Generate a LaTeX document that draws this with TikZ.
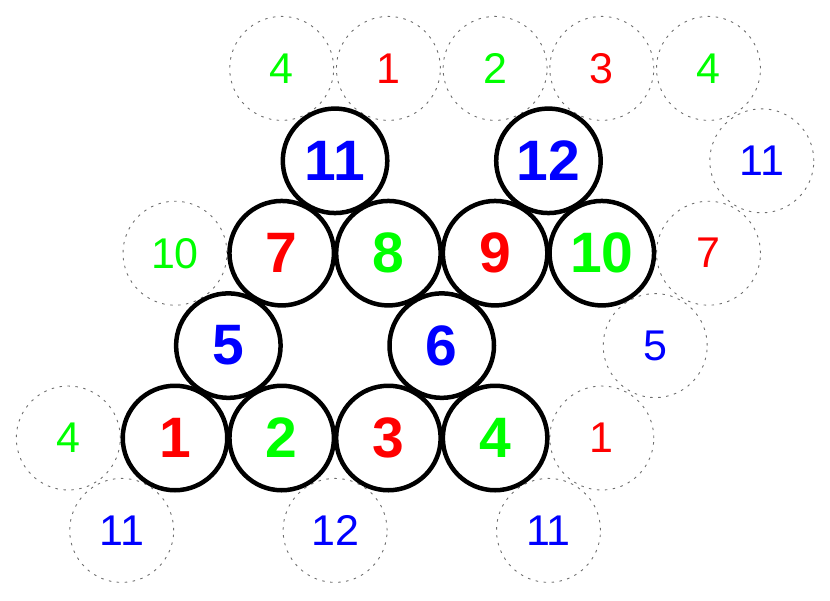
\documentclass[tikz,border=0pt]{standalone}
\usepackage{fontspec}
\setmainfont{Liberation Sans}
\definecolor{cr}{RGB}{255,0,0}
\definecolor{cg}{RGB}{0,255,0}
\definecolor{cb}{RGB}{0,0,255}
\definecolor{dashgray}{RGB}{110,110,110}
\tikzset{
  main/.style={circle,draw=black,line width=4.5pt,minimum size=104.5pt,inner sep=0pt,font=\fontsize{57}{57}\selectfont\bfseries},
  ghost/.style={circle,draw=dashgray,line width=0.9pt,dash pattern=on 2.5pt off 5.5pt,minimum size=104pt,inner sep=0pt,font=\fontsize{43}{43}\selectfont},
}
\begin{document}
\begin{tikzpicture}[x=1pt,y=-1pt]
\useasboundingbox (0,0) rectangle (830,600);
% ghost circles
\node[ghost,text=cg] (g1) at (281.7,68.4) {4};
\node[ghost,text=cr] (g2) at (388.4,68.4) {1};
\node[ghost,text=cg] (g3) at (495.1,68.4) {2};
\node[ghost,text=cr] (g4) at (601.8,68.4) {3};
\node[ghost,text=cg] (g5) at (708.5,68.4) {4};
\node[ghost,text=cb] (g6) at (761.8,160.8) {11};
\node[ghost,text=cg] (g7) at (175,253.2) {10};
\node[ghost,text=cr] (g8) at (708.5,253.2) {7};
\node[ghost,text=cb] (g9) at (655.2,345.6) {5};
\node[ghost,text=cg] (g10) at (68.3,438) {4};
\node[ghost,text=cr] (g11) at (601.8,438) {1};
\node[ghost,text=cb] (g12) at (121.7,530.4) {11};
\node[ghost,text=cb] (g13) at (335.1,530.4) {12};
\node[ghost,text=cb] (g14) at (548.5,530.4) {11};
% main circles
\node[main,text=cr] (c1) at (175,438) {1};
\node[main,text=cg] (c2) at (281.7,438) {2};
\node[main,text=cr] (c3) at (388.4,438) {3};
\node[main,text=cg] (c4) at (495.1,438) {4};
\node[main,text=cb] (c5) at (228.35,345.6) {5};
\node[main,text=cb] (c6) at (441.75,345.6) {6};
\node[main,text=cr] (c7) at (281.7,253.2) {7};
\node[main,text=cg] (c8) at (388.4,253.2) {8};
\node[main,text=cr] (c9) at (495.1,253.2) {9};
\node[main,text=cg] (c10) at (601.8,253.2) {10};
\node[main,text=cb] (c11) at (335.05,160.8) {11};
\node[main,text=cb] (c12) at (548.45,160.8) {12};
\end{tikzpicture}
\end{document}
